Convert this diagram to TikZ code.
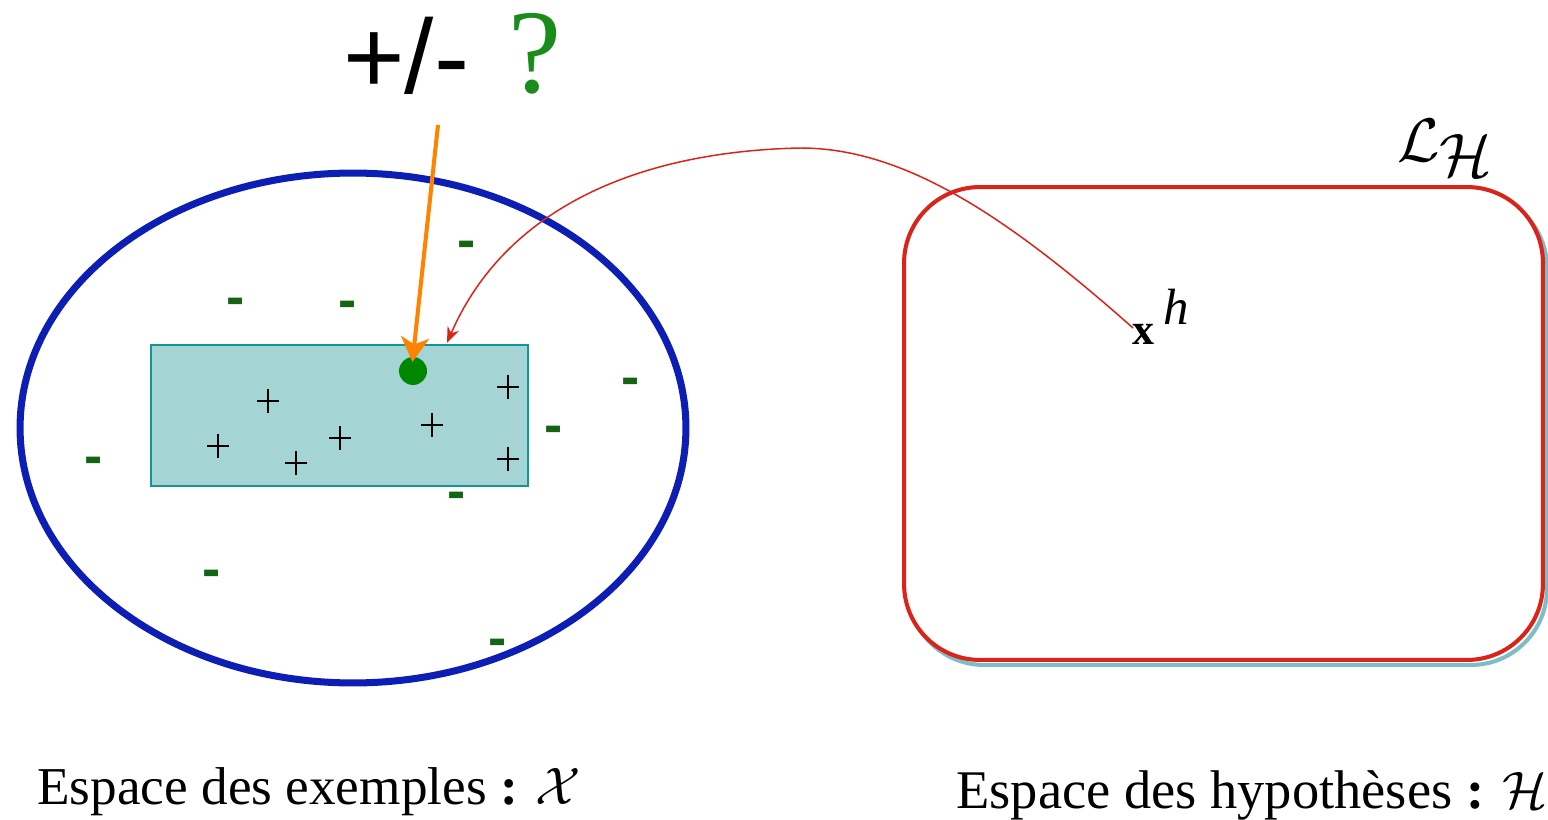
\documentclass[tikz,border=0pt]{standalone}
\usepackage{fontspec}
\setmainfont{Liberation Serif}
\newfontfamily\arialf{Liberation Sans}
\usetikzlibrary{arrows.meta,shapes.geometric}
\definecolor{exblue}{RGB}{12,30,180}
\definecolor{hred}{RGB}{218,35,25}
\definecolor{shadowteal}{RGB}{125,190,198}
\definecolor{boxteal}{RGB}{20,150,150}
\definecolor{boxfill}{RGB}{165,212,212}
\definecolor{minusgreen}{RGB}{20,100,20}
\definecolor{qgreen}{RGB}{25,140,25}
\definecolor{dotgreen}{RGB}{0,135,0}
\definecolor{orangeA}{RGB}{255,130,0}
\newcommand{\bigcal}[2]{{\fontsize{10}{12}\selectfont\scalebox{#1}{$\mathcal{#2}$}}}
\begin{document}
\begin{tikzpicture}[x=0.02cm,y=-0.02cm,
  minusmark/.style={text=minusgreen,font=\arialf\bfseries\fontsize{31}{31}\selectfont,inner sep=0,anchor=base},
  plusmark/.pic={\draw[black,line width=1.3pt] (-11,0)--(11,0) (0,-12)--(0,12);},
  hbox/.style={rectangle,rounded corners=1.52cm,minimum width=12.78cm,minimum height=9.46cm,line width=2.3pt,inner sep=0},
  bigtext/.style={font=\fontsize{31}{31}\selectfont,inner sep=0,anchor=base west}]
\useasboundingbox (0,0) rectangle (1548,820);

% example space
\node[ellipse,draw=exblue,line width=4pt,minimum width=13.32cm,minimum height=10.2cm,inner sep=0] (exspace) at (353,428) {};
\node[rectangle,draw=boxteal,fill=boxfill,line width=0.9pt,minimum width=7.54cm,minimum height=2.82cm,inner sep=0] (exrect) at (339.5,415.5) {};

% positive examples
\foreach \px/\py in {268/401,218/446,296/463,340/438,432/425,508/387,508/459}
  \pic at (\px,\py) {plusmark};

% negative examples
\foreach \mx/\my [count=\i] in {467/243,236/300,348/303,631/380,554/428,94/459,457/494,212/571,498/640}
  \node[minusmark] (neg\i) at (\mx,\my+16) {-};

% query point
\node[circle,fill=dotgreen,minimum size=0.56cm,inner sep=0] (query) at (413,371) {};

% question label
\node[inner sep=0,anchor=base west,font=\arialf\fontsize{60}{60}\selectfont] (pm) at (343,94) {+/-};
\node[inner sep=0,anchor=base west,text=qgreen,font=\fontsize{68}{68}\selectfont] (qm) at (508,93) {?};
\coordinate (qbot) at (438,125);
\draw[orangeA,line width=2.3pt,-{Stealth[length=14pt,width=16pt,inset=4pt]},shorten >=-3pt] (qbot) -- (query.north);

% hypothesis space
\node[hbox,draw=shadowteal] (hshadow) at (1227.5,428.5) {};
\node[hbox,draw=hred,fill=white] (hspace) at (1223.5,423.5) {};
\node[inner sep=0,anchor=base west] (lh) at (1397,162) {\bigcal{3.5}{L}\kern0pt\raisebox{-8pt}{\bigcal{3.5}{H}}};

% hypothesis h
\node[inner sep=0,anchor=base west,font=\fontsize{25}{25}\selectfont\bfseries] (hx) at (1132,345) {x};
\node[inner sep=0,anchor=base west,font=\fontsize{29}{29}\selectfont\itshape] (hsup) at (1163,325) {h};
\coordinate (hstart) at (1133,328);
\coordinate (target) at (447,343);
\draw[hred,line width=0.85pt,-{Stealth[length=9pt,width=7pt]}] (hstart) .. controls (1000,210) and (900,148) .. (800,148) .. controls (620,152) and (500,220) .. (target);

% captions
\node[bigtext,font=\fontsize{30.3}{31}\selectfont] (capx) at (37,804) {Espace des exemples \textbf{:} \bigcal{3.0}{X}};
\node[bigtext] (caph) at (956,808) {Espace des hypoth\`eses \textbf{:} \bigcal{3.0}{H}};
\end{tikzpicture}
\end{document}
